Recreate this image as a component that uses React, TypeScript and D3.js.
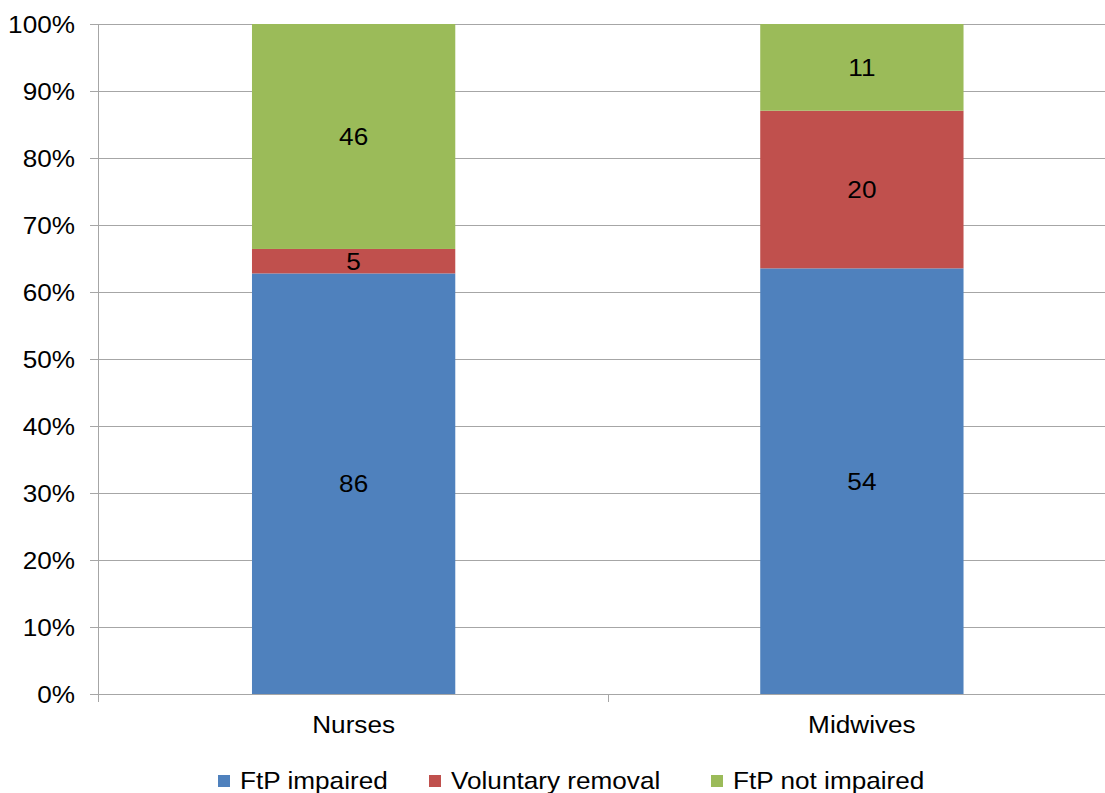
import React from "react";
import * as d3 from "d3";

const categories = ["Nurses", "Midwives"];
const seriesNames = ["FtP impaired", "Voluntary removal", "FtP not impaired"];
const ftpImpaired = [86, 54];
const voluntaryRemoval = [5, 20];
const ftpNotImpaired = [46, 11];
const seriesColors = ["#4F81BD", "#C0504D", "#9BBB59"];
const yTicks = [0, 0.1, 0.2, 0.3, 0.4, 0.5, 0.6, 0.7, 0.8, 0.9, 1.0];

const SX = 1.09;
const FS = 24;

function T({ x, y, anchor = "start", children }: { x: number; y: number; anchor?: string; children: any }) {
  return (
    <g transform={`translate(${x},${y}) scale(${SX},1)`}>
      <text x={0} y={0} dy="0.36em" textAnchor={anchor} fontSize={FS} fill="#000">{children}</text>
    </g>
  );
}

export default function App() {
  const W = 1105, H = 793;
  const left = 98, right = 1116, top = 24, bottom = 694;
  const font = "'Liberation Sans', Arial, sans-serif";
  const y = d3.scaleLinear().domain([0, 1]).range([bottom, top]);
  const x = d3.scaleBand().domain(categories).range([left + 1.5, right]).paddingInner(0.6).paddingOuter(0.3);
  const step = x.step();

  const rows = categories.map((c, i) => ({ cat: c, a: ftpImpaired[i], b: voluntaryRemoval[i], c2: ftpNotImpaired[i] }));
  const stack = d3.stack<any>().keys(["a", "b", "c2"]).offset(d3.stackOffsetExpand);
  const layers = stack(rows);
  const rawVals = [ftpImpaired, voluntaryRemoval, ftpNotImpaired];

  return (
    <svg width={W} height={H} style={{ display: "block", position: "absolute", left: 0, top: 0 }} fontFamily={font}>
      <rect width={W} height={H} fill="#fff" />
      {yTicks.map((t) => (
        <g key={t}>
          <line x1={90} x2={right} y1={Math.round(y(t)) + 0.5} y2={Math.round(y(t)) + 0.5} stroke="#A6A6A6" strokeWidth={1} />
          <T x={75} y={y(t)} anchor="end">{`${Math.round(t * 100)}%`}</T>
        </g>
      ))}
      {layers.map((layer, si) => (
        <g key={si}>
          {layer.map((d, ci) => (
            <rect key={ci} x={x(categories[ci])!} width={x.bandwidth()} y={y(d[1])} height={y(d[0]) - y(d[1])} fill={seriesColors[si]} />
          ))}
        </g>
      ))}
      {layers.map((layer, si) => (
        <g key={"l" + si}>
          {layer.map((d, ci) => (
            <T key={ci} x={x(categories[ci])! + x.bandwidth() / 2} y={(y(d[0]) + y(d[1])) / 2} anchor="middle">
              {rawVals[si][ci]}
            </T>
          ))}
        </g>
      ))}
      <line x1={left + 0.5} x2={left + 0.5} y1={top} y2={bottom + 8} stroke="#A6A6A6" />
      {categories.map((c, i) => (
        <line key={"t" + i} x1={Math.round(x(c)! - x.paddingOuter() * step + step) + 0.5} x2={Math.round(x(c)! - x.paddingOuter() * step + step) + 0.5} y1={bottom} y2={bottom + 8} stroke="#A6A6A6" />
      ))}
      {categories.map((c) => (
        <T key={c} x={x(c)! + x.bandwidth() / 2} y={724} anchor="middle">{c}</T>
      ))}
      {seriesNames.map((s, i) => {
        const lx = [218, 429, 711][i];
        return (
          <g key={s}>
            <rect x={lx} y={775} width={12} height={12} fill={seriesColors[i]} />
            <T x={lx + 22} y={780}>{s}</T>
          </g>
        );
      })}
    </svg>
  );
}
